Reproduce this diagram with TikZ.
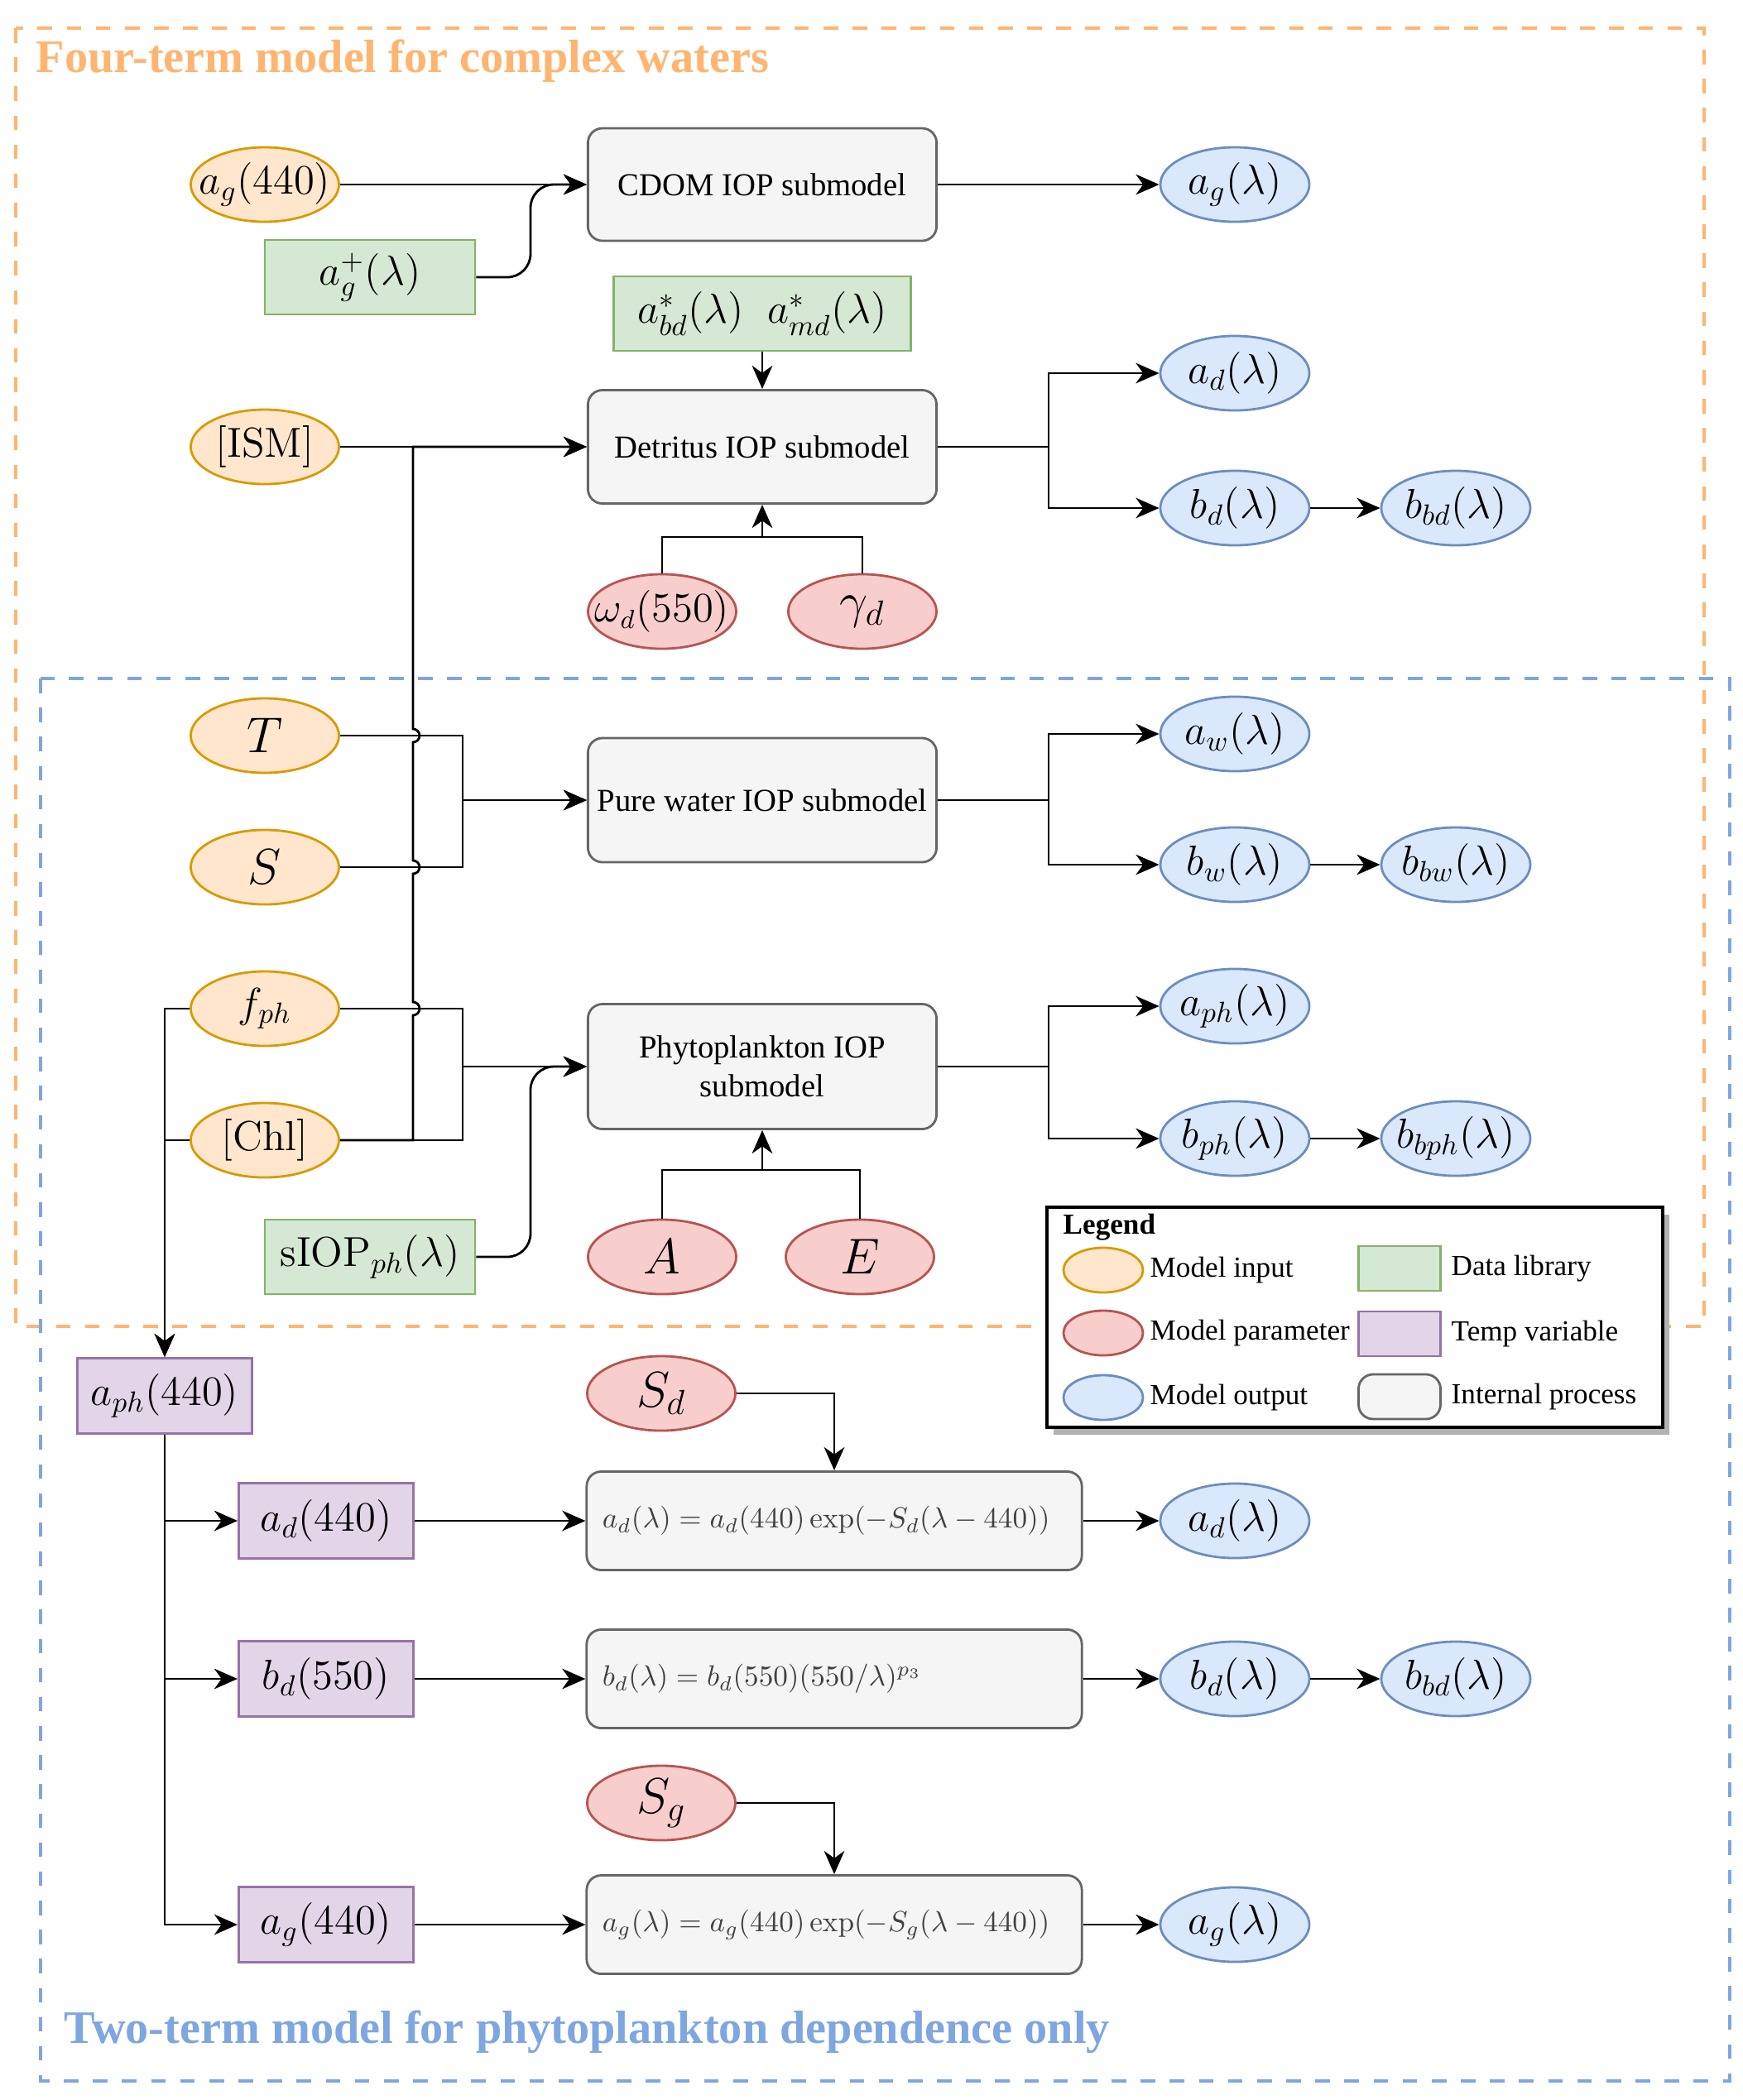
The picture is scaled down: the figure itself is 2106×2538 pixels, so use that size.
\documentclass[tikz,border=0pt]{standalone}
\usepackage{amsmath}
\usepackage[no-math]{fontspec}
\setmainfont{Liberation Serif}
\usepackage{tikz}
\usetikzlibrary{arrows.meta,shapes.geometric,calc}
\usepackage{xcolor}
\definecolor{Peach}{HTML}{FFE6CC}
\definecolor{Ochre}{HTML}{D79B00}
\definecolor{Mint}{HTML}{D5E8D4}
\definecolor{Fern}{HTML}{82B366}
\definecolor{Blush}{HTML}{F8CECC}
\definecolor{Brick}{HTML}{B85450}
\definecolor{Sky}{HTML}{DAE8FC}
\definecolor{Denim}{HTML}{6C8EBF}
\definecolor{Lilac}{HTML}{E1D5E7}
\definecolor{Mauve}{HTML}{9673A6}
\definecolor{Smoke}{HTML}{F5F5F5}
\definecolor{Slate}{HTML}{666666}
\definecolor{Tangerine}{HTML}{FFB570}
\definecolor{Cornflower}{HTML}{7EA6E0}
\newcommand{\mfs}{\fontsize{14.5}{17}\selectfont}
\newcommand{\bfs}{\fontsize{17.5}{20}\selectfont}
\newcommand{\lfs}{\fontsize{10}{12}\selectfont}
\tikzset{
    blob/.style={draw, line width=0.8pt, inner sep=0pt, font=\mfs},
    inp/.style={blob, ellipse, inner xsep=-0.3cm, fill=Peach, draw=Ochre, minimum width=1.79cm, minimum height=0.9cm},
    param/.style={blob, ellipse, inner xsep=-0.3cm, fill=Blush, draw=Brick, minimum width=1.79cm, minimum height=0.9cm},
    outp/.style={blob, ellipse, inner xsep=-0.3cm, fill=Sky, draw=Denim, minimum width=1.8cm, minimum height=0.9cm},
    lib/.style={blob, fill=Mint, draw=Fern, minimum height=0.9cm},
    tmp/.style={blob, fill=Lilac, draw=Mauve, minimum width=2.11cm, minimum height=0.91cm},
    proc/.style={blob, rounded corners=5pt, fill=Smoke, draw=Slate, minimum width=4.21cm, font=\fontsize{11}{13.5}\selectfont, align=center},
    eqn/.style={proc, minimum width=5.98cm, minimum height=1.19cm, inner xsep=0.19cm, text width=5.6cm, align=left, font=\fontsize{10.4}{12}\selectfont, text=black!75},
    link/.style={line width=0.8pt, -{Stealth[length=8pt,width=7pt,inset=2.5pt]}},
    wire/.style={line width=0.8pt},
    zone/.style={line width=1.4pt, dash pattern=on 5pt off 5pt},
    legtext/.style={anchor=west, inner sep=0pt, font=\lfs}
}

\begin{document}
\begin{tikzpicture}[x=0.01cm,y=-0.01cm]
    \useasboundingbox (0,0) rectangle (2106,2538);
    \draw[zone,draw=Tangerine] (19,34) rectangle (2059,1603);
    \draw[zone,draw=Cornflower] (49,820) rectangle (2090,2515);
    \node[anchor=west,inner sep=0pt,text=Tangerine,font=\bfseries\fontsize{16}{19}\selectfont] (fourterm) at (43,74) {Four-term model for complex waters};
    \node[anchor=west,inner sep=0pt,text=Cornflower,font=\bfseries\fontsize{16}{19}\selectfont] (twoterm) at (77,2456) {Two-term model for phytoplankton dependence only};

    \node[inp] (ag440) at (320,223) {$a_g(440)$};
    \node[lib,minimum width=2.54cm] (agplus) at (447,335) {$a_g^{+}(\lambda)$};
    \node[proc,minimum height=1.36cm] (cdom) at (921,223) {CDOM IOP submodel};
    \node[outp] (agout) at (1492,223) {$a_g(\lambda)$};
    \draw[link] (ag440) -- (cdom);
    \draw[link,rounded corners=8pt] (agplus.east) -- (641,335) -- (641,223) -- (cdom.west);
    \draw[link] (cdom) -- (agout);

    \node[lib,minimum width=3.59cm] (abdmd) at (921,379) {$a^*_{bd}(\lambda)\;\; a^*_{md}(\lambda)$};
    \node[inp] (ism) at (320,540) {$[\mathrm{ISM}]$};
    \node[proc,minimum height=1.37cm] (detritus) at (921,540) {Detritus IOP submodel};
    \node[param,font=\fontsize{13.3}{16}\selectfont] (omegad) at (800,739) {$\omega_d(550)$};
    \node[param,font=\bfs] (gammad) at (1042,739) {$\gamma_d$};
    \node[outp] (adout) at (1492,451) {$a_d(\lambda)$};
    \node[outp] (bdout) at (1492,614) {$b_d(\lambda)$};
    \node[outp] (bbdout) at (1759,614) {$b_{bd}(\lambda)$};
    \coordinate (dpar) at (921,649);
    \draw[link] (abdmd) -- (detritus);
    \draw[link] (ism) -- (detritus);
    \draw[wire] (omegad.north) |- (dpar);
    \draw[wire] (gammad.north) |- (dpar);
    \draw[link] (dpar) -- (detritus.south);
    \draw[link] (detritus.east) -- (1267,540) |- (adout.west);
    \draw[link] (detritus.east) -- (1267,540) |- (bdout.west);
    \draw[link] (bdout) -- (bbdout);

    \node[inp,font=\bfs] (T) at (320,889) {$T$};
    \node[inp,font=\bfs] (S) at (320,1048) {$S$};
    \node[proc,minimum height=1.5cm] (pure) at (921,967) {Pure water IOP submodel};
    \node[outp] (awout) at (1492,887) {$a_w(\lambda)$};
    \node[outp] (bwout) at (1492,1045) {$b_w(\lambda)$};
    \node[outp] (bbwout) at (1759,1045) {$b_{bw}(\lambda)$};
    \draw[link] (T.east) -- (559,889) |- (pure.west);
    \draw[link] (S.east) -- (559,1048) |- (pure.west);
    \draw[link] (pure.east) -- (1267,967) |- (awout.west);
    \draw[link] (pure.east) -- (1267,967) |- (bwout.west);
    \draw[link] (bwout) -- (bbwout);

    \node[inp,font=\fontsize{14}{17}\selectfont] (fph) at (320,1219) {$f_{ph}$};
    \node[inp] (chl) at (320,1378) {$[\mathrm{Chl}]$};
    \node[proc,minimum height=1.51cm] (phyto) at (921,1289) {Phytoplankton IOP\\submodel};
    \node[lib,minimum width=2.54cm] (siop) at (447,1519) {$\mathrm{sIOP}_{ph}(\lambda)$};
    \node[param,font=\bfs] (A) at (800,1519) {$A$};
    \node[param,font=\bfs] (E) at (1039,1519) {$E$};
    \node[outp] (aphout) at (1492,1216) {$a_{ph}(\lambda)$};
    \node[outp] (bphout) at (1492,1376) {$b_{ph}(\lambda)$};
    \node[outp] (bbphout) at (1759,1376) {$b_{bph}(\lambda)$};
    \coordinate (ppar) at (921,1414);
    \draw[link] (fph.east) -- (559,1219) |- (phyto.west);
    \draw[link] (chl.east) -- (559,1378) |- (phyto.west);
    \draw[link,rounded corners=8pt] (siop.east) -- (641,1519) -- (641,1289) -- (phyto.west);
    \draw[wire] (A.north) |- (ppar);
    \draw[wire] (E.north) |- (ppar);
    \draw[link] (ppar) -- (phyto.south);
    \draw[link] (phyto.east) -- (1267,1289) |- (aphout.west);
    \draw[link] (phyto.east) -- (1267,1289) |- (bphout.west);
    \draw[link] (bphout) -- (bbphout);
    \draw[link] (chl.east) -- (499,1378) -- (499,1227) arc[start angle=-90,end angle=90,radius=0.08cm]
        -- (499,1056) arc[start angle=-90,end angle=90,radius=0.08cm]
        -- (499,897) arc[start angle=-90,end angle=90,radius=0.08cm]
        -- (499,540) -- (detritus.west);

    \node[tmp] (aph440) at (199,1687) {$a_{ph}(440)$};
    \node[tmp] (ad440) at (394,1838) {$a_d(440)$};
    \node[tmp] (bd550) at (394,2029) {$b_d(550)$};
    \node[tmp] (ag440b) at (394,2326) {$a_g(440)$};
    \draw[link] (fph.west) -- (199,1219) -- (aph440.north);
    \draw[link] (chl.west) -- (199,1378) -- (aph440.north);
    \draw[link] (aph440.south) |- (ad440.west);
    \draw[link] (aph440.south) |- (bd550.west);
    \draw[link] (aph440.south) |- (ag440b.west);

    \node[param,font=\bfs] (Sd) at (799,1684) {$S_d$};
    \node[param,font=\bfs] (Sg) at (799,2179) {$S_g$};
    \node[eqn] (eqad) at (1008,1838) {\mbox{$a_d(\lambda) = a_d(440)\exp(-S_d(\lambda - 440))$}};
    \node[eqn] (eqbd) at (1008,2029) {\mbox{$b_d(\lambda) = b_d(550)(550/\lambda)^{p_3}$}};
    \node[eqn] (eqag) at (1008,2326) {\mbox{$a_g(\lambda) = a_g(440)\exp(-S_g(\lambda - 440))$}};
    \node[outp] (adout2) at (1492,1838) {$a_d(\lambda)$};
    \node[outp] (bdout2) at (1492,2029) {$b_d(\lambda)$};
    \node[outp] (bbdout2) at (1759,2029) {$b_{bd}(\lambda)$};
    \node[outp] (agout2) at (1492,2326) {$a_g(\lambda)$};
    \draw[link] (Sd.east) -| (eqad.north);
    \draw[link] (Sg.east) -| (eqag.north);
    \draw[link] (ad440) -- (eqad);
    \draw[link] (bd550) -- (eqbd);
    \draw[link] (ag440b) -- (eqag);
    \draw[link] (eqad) -- (adout2);
    \draw[link] (eqbd) -- (bdout2);
    \draw[link] (eqag) -- (agout2);
    \draw[link] (bdout2) -- (bbdout2);

    \fill[black!30] (1273,1468) rectangle (2017,1734);
    \draw[line width=1pt,fill=white] (1265,1459) rectangle (2009,1725);
    \node[legtext,font=\bfseries\lfs] (legend) at (1284,1483) {Legend};
    \node[inp,minimum width=0.96cm,minimum height=0.54cm] (keyinp) at (1333,1535) {};
    \node[param,minimum width=0.96cm,minimum height=0.54cm] (keypar) at (1333,1611) {};
    \node[outp,minimum width=0.96cm,minimum height=0.54cm] (keyout) at (1333,1689) {};
    \node[lib,minimum width=0.99cm,minimum height=0.54cm] (keylib) at (1691,1533) {};
    \node[tmp,minimum width=0.99cm,minimum height=0.54cm] (keytmp) at (1691,1612) {};
    \node[proc,minimum width=0.99cm,minimum height=0.54cm] (keyproc) at (1691,1688) {};
    \node[legtext] at (1389,1535) {Model input};
    \node[legtext] at (1389,1611) {Model parameter};
    \node[legtext] at (1389,1689) {Model output};
    \node[legtext] at (1753,1533) {Data library};
    \node[legtext] at (1753,1612) {Temp variable};
    \node[legtext] at (1753,1688) {Internal process};
\end{tikzpicture}
\end{document}
